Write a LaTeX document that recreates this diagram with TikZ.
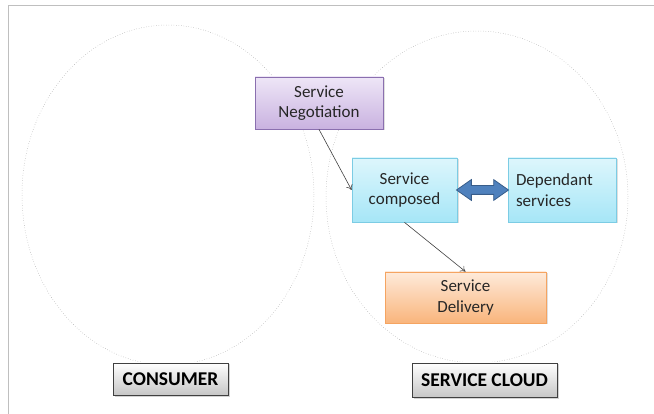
\documentclass[tikz,border=0pt]{standalone}
\usepackage{fontspec}
\setmainfont{Carlito}
\usepackage{xcolor}
\usetikzlibrary{calc,shapes.arrows,shadows,arrows.meta}

\definecolor{negoTop}{HTML}{EEE6F7}
\definecolor{negoBot}{HTML}{C9B2E0}
\definecolor{negoLine}{HTML}{8A6FAF}
\definecolor{compTop}{HTML}{DDF6FC}
\definecolor{compBot}{HTML}{A6E6F7}
\definecolor{compLine}{HTML}{7CCCE4}
\definecolor{delivTop}{HTML}{FEEADA}
\definecolor{delivBot}{HTML}{F9B57C}
\definecolor{delivLine}{HTML}{F5A461}
\definecolor{linkFill}{HTML}{4F81BD}
\definecolor{linkLine}{HTML}{385D8A}

\begin{document}
\begin{tikzpicture}[x=1pt, y=-1pt,
    box/.style={draw, line width=0.8pt, align=center, inner sep=0pt, text=black!85,
        font=\fontsize{17}{20.5}\selectfont,
        drop shadow={shadow xshift=1.5pt, shadow yshift=-1.5pt, opacity=0.25}},
    tag/.style={draw=black!75, line width=0.8pt, top color=white, bottom color=black!22,
        inner sep=0pt, minimum height=32pt, font=\bfseries\fontsize{19.5}{23}\selectfont,
        drop shadow={shadow xshift=1.5pt, shadow yshift=-1.5pt, opacity=0.35}},
    flow/.style={draw=black!75, line width=0.6pt, -{To[length=5pt,width=7pt]}},
    cloud/.style={draw=black!35, dotted, line width=0.5pt}]

    % Frame lines at the top and on the left
    \useasboundingbox (0,0) rectangle (654,414);
    \draw[black!25, line width=1pt] (654,6) -- (8,6) -- (8,414);

    % Draw the two ellipses
    \draw[cloud] (168,195) ellipse [x radius=146pt, y radius=170pt];
    \draw[cloud] (477,197) ellipse [x radius=151pt, y radius=166pt];

    % Boxes
    \node[box, draw=negoLine, top color=negoTop, bottom color=negoBot,
        minimum width=128pt, minimum height=52pt] (nego) at (319,103) {Service\\Negotiation};
    \node[box, draw=compLine, top color=compTop, bottom color=compBot,
        minimum width=105pt, minimum height=64pt] (composed) at (404.5,190) {Service\\composed};
    \node[box, draw=compLine, top color=compTop, bottom color=compBot, align=left,
        text width=92pt, inner xsep=8pt, minimum height=64pt] (dependant) at (562,190) {Dependant\\services};
    \node[box, draw=delivLine, top color=delivTop, bottom color=delivBot,
        minimum width=161pt, minimum height=51pt] (delivery) at (465.5,297.5) {Service\\Delivery};

    % Double arrow between the blue boxes
    \node[double arrow, fill=linkFill, draw=linkLine, line width=0.8pt,
        minimum height=52pt, inner xsep=0pt, inner ysep=4pt,
        double arrow head extend=6pt, double arrow tip angle=70]
        (link) at ($(composed.east)!0.5!(dependant.west)$) {};

    % Arrows
    \draw[flow] (nego.south) -- (composed.west);
    \draw[flow] (composed.south) -- (delivery.north);

    % Labels under the ellipses
    \node[tag, minimum width=115pt] (consumer) at (170.5,379) {CONSUMER};
    \node[tag, minimum width=145pt, minimum height=34pt] (cloudtag) at (484.5,380) {SERVICE CLOUD};

\end{tikzpicture}
\end{document}
